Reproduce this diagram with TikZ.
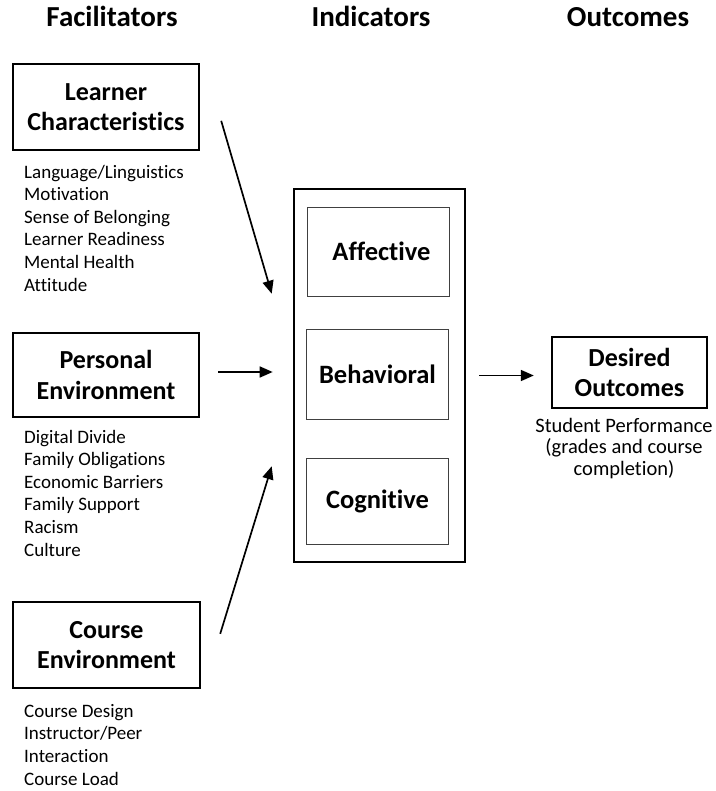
\documentclass[tikz,border=0pt]{standalone}
\usepackage{fontspec}
\setmainfont{Carlito}[Ligatures=NoCommon]
\usetikzlibrary{arrows.meta}
\tikzset{
  head/.style={anchor=base, inner sep=0pt, font=\fontsize{29}{34}\selectfont\bfseries},
  fbox/.style={draw, line width=2.4pt, align=center, inner sep=0pt,
    font=\fontsize{26}{30.5}\selectfont\bfseries},
  ibox/.style={draw=black!75, line width=0.9pt, minimum width=142pt,
    font=\fontsize{26.5}{30}\selectfont\bfseries},
  items/.style={align=left, anchor=base west, inner sep=0pt,
    font=\fontsize{19}{22.6}\selectfont},
  arr/.style={line width=1.7pt, -{Triangle[length=13pt,width=11pt]}}
}
\begin{document}
\begin{tikzpicture}[x=1pt,y=-1pt]
\useasboundingbox (0,0) rectangle (715,791);
% column titles
\node[head] (hfac) at (112,27) {Facilitators};
\node[head] (hind) at (371,27) {Indicators};
\node[head] (hout) at (628,27) {Outcomes};
% facilitators (lists placed by the baseline of their last line)
\node[fbox, minimum width=186pt, minimum height=86pt] (learner) at (106,107) {Learner\\Characteristics};
\node[items] (llist) at (24,291) {Language/Linguistics\\Motivation\\Sense of Belonging\\Learner Readiness\\Mental Health\\Attitude};
\node[fbox, minimum width=186pt, minimum height=84pt] (personal) at (106,375) {Personal\\Environment};
\node[items] (plist) at (24,556) {Digital Divide\\Family Obligations\\Economic Barriers\\Family Support\\Racism\\Culture};
\node[fbox, minimum width=187pt, minimum height=86pt] (course) at (106.5,645) {Course\\Environment};
\node[items] (clist) at (24,785) {Course Design\\Instructor/Peer\\Interaction\\Course Load};
% indicators
\node[draw, line width=2.6pt, minimum width=171pt, minimum height=373pt] (ind) at (379.5,375.5) {};
\node[ibox, minimum height=89pt] (aff) at (378,251.5) {\hspace{7pt}Affective};
\node[ibox, minimum height=90pt] (beh) at (377.5,374) {Behavioral};
\node[ibox, minimum height=86pt] (cog) at (377.5,501) {Cognitive\hspace{4pt}};
% outcomes
\node[fbox, minimum width=155pt, minimum height=71pt] (out) at (629.5,372.5) {Desired\\Outcomes};
\node[align=center, anchor=base, inner sep=0pt, font=\fontsize{20.5}{21.5}\selectfont] (olist) at (624,475) {Student Performance\\(grades and course\\completion)};
% arrows
\draw[arr] ([shift={(21,58)}]learner.north east) -- ([shift={(-21,106)}]ind.north west);
\draw[arr] ([shift={(18,-3)}]personal.east) -- ([shift={(-20,-3)}]ind.west |- personal.east);
\draw[arr] ([shift={(19,33)}]course.north east) -- ([shift={(-21,-97)}]ind.south west);
\draw[arr] ([xshift=13]ind.east) -- ([xshift=-17]out.west |- ind.east);
\end{tikzpicture}
\end{document}
